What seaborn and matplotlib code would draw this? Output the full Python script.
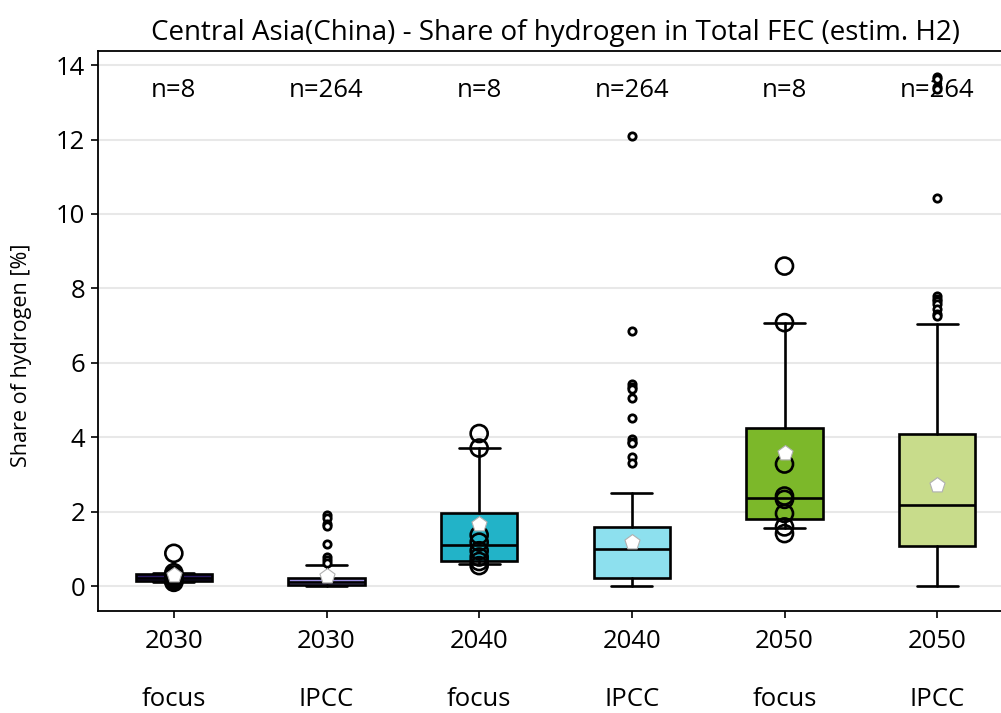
import matplotlib
matplotlib.use("Agg")
import matplotlib.pyplot as plt
import seaborn as sns
import numpy as np
import pandas as pd

# ---------------- data ----------------
years = ["2030", "2030", "2040", "2040", "2050", "2050"]
sources = ["focus", "IPCC", "focus", "IPCC", "focus", "IPCC"]
n_counts = [8, 264, 8, 264, 8, 264]

# box statistics (share of hydrogen, %)
q1 = [0.14, 0.02, 0.67, 0.21, 1.80, 1.08]
median = [0.22, 0.10, 1.11, 0.99, 2.38, 2.18]
q3 = [0.32, 0.23, 1.96, 1.58, 4.25, 4.09]
whisker_low = [0.11, 0.00, 0.59, 0.00, 1.57, 0.00]
whisker_high = [0.36, 0.56, 3.71, 2.49, 7.08, 7.03]
means = [0.30, 0.28, 1.67, 1.19, 3.57, 2.71]

# individual focus scenarios (n=8 each)
focus_2030 = [0.88, 0.36, 0.30, 0.26, 0.22, 0.18, 0.14, 0.10]
focus_2040 = [4.10, 3.71, 1.37, 1.18, 0.95, 0.78, 0.66, 0.55]
focus_2050 = [8.60, 7.08, 3.28, 2.42, 2.33, 1.95, 1.59, 1.41]

# IPCC outliers
ipcc_fliers_2030 = [1.92, 1.83, 1.67, 1.62, 1.12, 0.78, 0.70, 0.62]
ipcc_fliers_2040 = [12.10, 6.86, 5.42, 5.35, 5.30, 5.05, 4.51, 3.95, 3.88, 3.84, 3.48, 3.30]
ipcc_fliers_2050 = [13.68, 13.62, 13.40, 13.35, 10.42, 7.80, 7.72, 7.65, 7.58, 7.45, 7.30, 7.25]

box_colors = ["#2b1b66", "#9d91e6", "#22b3c8", "#8de0ee", "#7cb82a", "#c8dc8b"]

title = "Central Asia(China) - Share of hydrogen in Total FEC (estim. H2)"
ylabel = "Share of hydrogen [%]"

# ---------------- style ----------------
sns.set_theme(style="ticks")
plt.rcParams["font.family"] = ["Open Sans", "DejaVu Sans"]
plt.rcParams["text.color"] = "black"
plt.rcParams["axes.labelcolor"] = "black"
plt.rcParams["xtick.color"] = "black"
plt.rcParams["ytick.color"] = "black"

fig = plt.figure(figsize=(10.01, 7.13), dpi=100)
ax = fig.add_axes([97.5 / 1001, 102 / 713, 916 / 1001, 560 / 713])

positions = list(range(len(years)))
labels = [f"{y}\n\n{s}" for y, s in zip(years, sources)]

stats = []
for i in positions:
    stats.append(dict(q1=q1[i], med=median[i], q3=q3[i],
                      whislo=whisker_low[i], whishi=whisker_high[i],
                      mean=means[i], fliers=[], label=labels[i]))

lw = 1.9
bp = ax.bxp(stats, positions=positions, widths=0.5, capwidths=0.27,
            patch_artist=True, showfliers=False, showmeans=False,
            boxprops=dict(linewidth=lw, edgecolor="black"),
            whiskerprops=dict(linewidth=lw, color="black"),
            capprops=dict(linewidth=lw, color="black"),
            medianprops=dict(linewidth=lw, color="black"),
            zorder=2)
for patch, c in zip(bp["boxes"], box_colors):
    patch.set_facecolor(c)

# focus scenario points
focus_df = pd.DataFrame({
    "pos": [0] * len(focus_2030) + [2] * len(focus_2040) + [4] * len(focus_2050),
    "value": focus_2030 + focus_2040 + focus_2050,
})
sns.scatterplot(data=focus_df, x="pos", y="value", ax=ax, marker="o", s=150,
                color="black", linewidth=1.9, edgecolor="black", zorder=3, legend=False)
ax.collections[-1].set_facecolor("none")

# IPCC outliers
fl_df = pd.DataFrame({
    "pos": [1] * len(ipcc_fliers_2030) + [3] * len(ipcc_fliers_2040) + [5] * len(ipcc_fliers_2050),
    "value": ipcc_fliers_2030 + ipcc_fliers_2040 + ipcc_fliers_2050,
})
sns.scatterplot(data=fl_df, x="pos", y="value", ax=ax, marker="o", s=28,
                color="black", linewidth=2.0, edgecolor="black", zorder=3, legend=False)
ax.collections[-1].set_facecolor("white")

# means
mean_df = pd.DataFrame({"pos": positions, "value": means})
sns.scatterplot(data=mean_df, x="pos", y="value", ax=ax, marker="p", s=130,
                color="white", linewidth=0.8, edgecolor="#b0b0b0", zorder=4, legend=False)

# n labels
for p, n in zip(positions, n_counts):
    ax.text(p, 13.33, f"n={n}", ha="center", va="center", fontsize=18.5, zorder=1)

ax.set_xlim(-0.5, 5.5)
ax.set_ylim(-0.67, 14.38)
ax.set_xticks(positions)
ax.set_xticklabels(labels, linespacing=1.22)
ax.set_yticks(np.arange(0, 15, 2))
ax.tick_params(axis="both", direction="out", length=5, width=1.2, labelsize=18.5)
ax.tick_params(axis="x", pad=8)
ax.tick_params(axis="y", pad=4)
ax.yaxis.grid(True, color="#e8e8e8", linewidth=1.5)
ax.set_axisbelow(True)
for s in ax.spines.values():
    s.set_color("black")
    s.set_linewidth(1.3)
ax.set_xlabel("")
ax.set_ylabel(ylabel, fontsize=15.5)
ax.yaxis.set_label_coords(-0.071, 0.457)
ax.set_title(title, fontsize=20, pad=8)

fig.savefig("out.png", dpi=100)
